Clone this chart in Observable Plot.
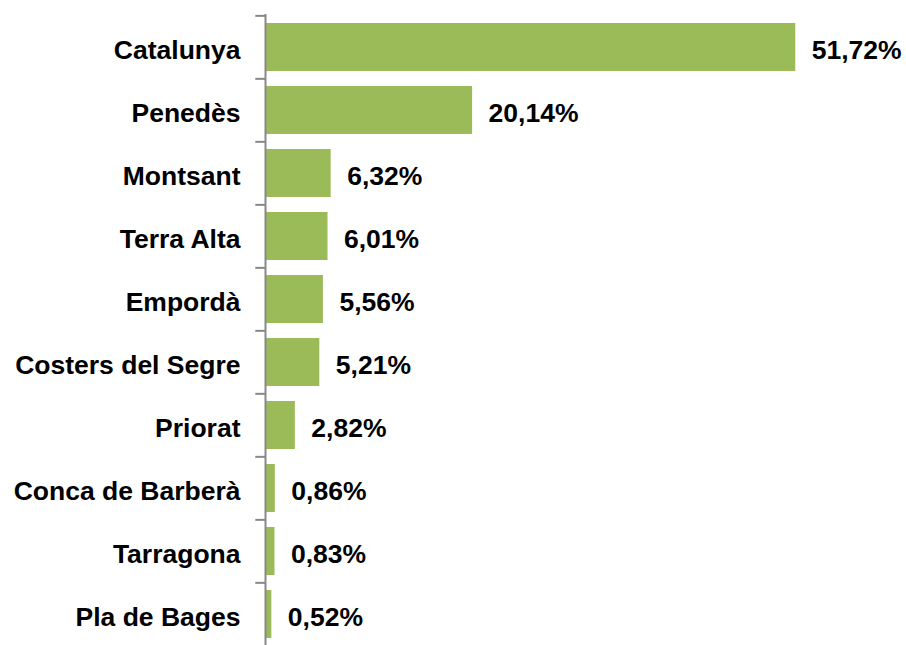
<!DOCTYPE html>
<html>
<head>
<meta charset="utf-8">
<script src="https://cdn.jsdelivr.net/npm/d3@7"></script>
<script src="https://cdn.jsdelivr.net/npm/@observablehq/plot@0.6"></script>
<style>
  html, body { margin: 0; padding: 0; background: #fff; }
</style>
</head>
<body>
<div id="chart"></div>
<script>
const categories = ["Catalunya", "Penedès", "Montsant", "Terra Alta", "Empordà", "Costers del Segre", "Priorat", "Conca de Barberà", "Tarragona", "Pla de Bages"];
const values = [51.72, 20.14, 6.32, 6.01, 5.56, 5.21, 2.82, 0.86, 0.83, 0.52];

const data = categories.map((c, i) => ({category: c, value: values[i]}));
const fmt = v => v.toFixed(2).replace(".", ",") + "%";

const yTop = 14, yBottom = 647;
const step = (yBottom - yTop) / categories.length;

const chart = Plot.plot({
  width: 906,
  height: 645,
  marginLeft: 266,
  marginRight: 26,
  marginTop: 14,
  marginBottom: 0,
  style: {fontFamily: "'Liberation Sans', Arial, sans-serif", fontSize: "26.5px", background: "#fff", overflow: "visible"},
  x: {domain: [0, 60], axis: null},
  y: {domain: categories, range: [yTop, yBottom], paddingInner: 0.24, paddingOuter: 0.12, label: null},
  marks: [
    Plot.barX(data, {x: "value", y: "category", fill: "#9BBB59"}),
    Plot.ruleX([0], {stroke: "#888888", strokeWidth: 2, dx: -1}),
    Plot.ruleY(categories, {y: d => d, x1: -0.95, x2: 0, dx: -1, dy: -step / 2, stroke: "#888888", strokeWidth: 2}),
    Plot.axisY({tickSize: 0, tickPadding: 26, dy: 3, fontSize: 26.5, fontWeight: "bold", fill: "#000", label: null}),
    Plot.text(data, {x: "value", y: "category", text: d => fmt(d.value), textAnchor: "start", dx: 16, dy: 3, fontSize: 26.5, fontWeight: "bold", fill: "#000"})
  ]
});
document.getElementById("chart").appendChild(chart);
</script>
</body>
</html>
